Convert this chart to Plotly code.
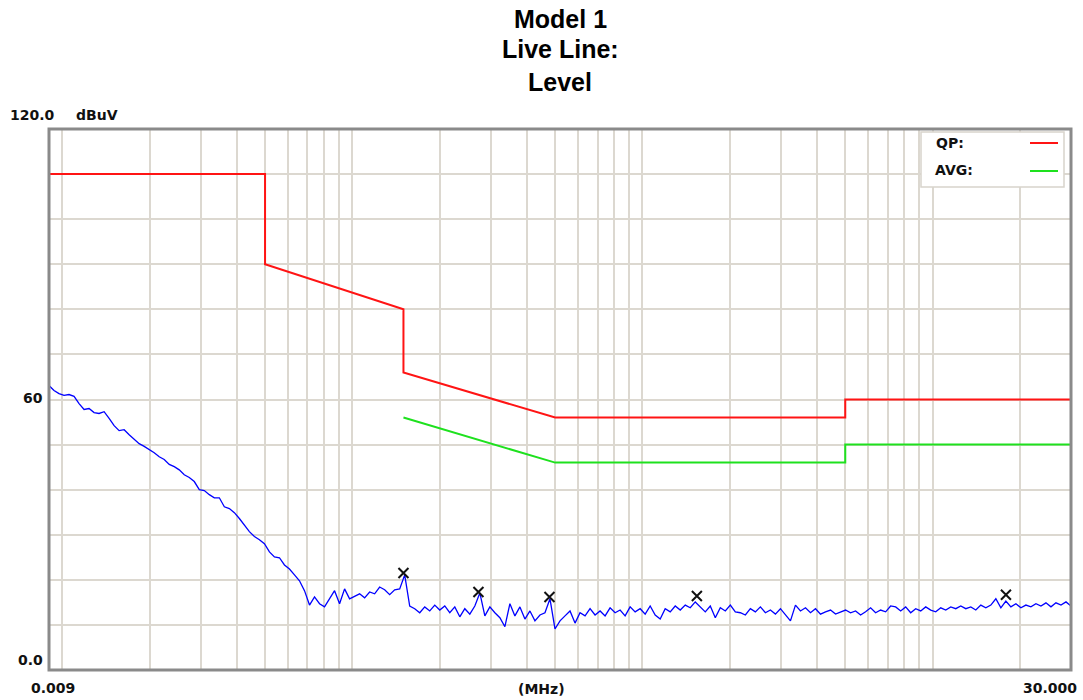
import numpy as np
import plotly.graph_objects as go

# ---------------- data ----------------
# Limit lines (MHz, dBuV)
qp_freq = [0.009, 0.05, 0.05, 0.15, 0.15, 0.5, 5.0, 5.0, 30.0]
qp_level = [110, 110, 90, 80, 66, 56, 56, 60, 60]
avg_freq = [0.15, 0.5, 5.0, 5.0, 30.0]
avg_level = [56, 46, 46, 50, 50]

trace_level = [
    63.1, 62.0, 61.3, 60.9, 61.1, 60.7, 59.1, 57.8, 58.0, 57.1,
    56.9, 57.3, 55.8, 54.2, 53.1, 53.3, 52.2, 51.3, 50.2, 49.6,
    48.9, 48.2, 47.3, 46.7, 45.6, 45.1, 44.4, 43.3, 42.7, 41.8,
    40.0, 39.8, 38.9, 38.2, 38.2, 36.2, 35.8, 34.9, 33.6, 32.2,
    30.7, 29.6, 28.9, 28.0, 26.2, 25.1, 24.9, 23.3, 22.4, 21.1,
    19.8, 17.6, 14.4, 16.2, 14.7, 14.0, 15.8, 17.6, 14.7, 18.0,
    15.8, 16.4, 16.9, 16.0, 17.3, 16.9, 18.4, 17.8, 16.7, 17.8,
    18.0, 21.1, 14.2, 13.6, 12.7, 14.0, 13.1, 14.4, 13.3, 14.2,
    12.7, 14.0, 11.8, 13.6, 12.4, 14.2, 17.1, 12.0, 14.0, 12.7,
    11.6, 9.6, 14.7, 12.0, 14.0, 11.3, 13.1, 10.9, 12.2, 12.7,
    15.8, 9.1, 10.9, 12.0, 13.1, 10.4, 12.7, 12.0, 13.6, 12.2,
    13.1, 12.0, 13.8, 12.7, 13.3, 12.0, 14.0, 12.9, 13.6, 12.4,
    14.2, 12.2, 11.3, 13.6, 12.9, 14.2, 13.3, 14.4, 13.8, 15.1,
    14.0, 12.9, 14.2, 11.6, 13.8, 13.1, 14.4, 12.9, 12.7, 12.2,
    13.6, 12.9, 14.0, 12.7, 13.3, 12.4, 13.6, 12.2, 10.9, 14.4,
    13.1, 13.8, 12.7, 13.6, 12.4, 12.9, 13.3, 12.4, 12.9, 13.3,
    12.7, 13.1, 12.2, 12.9, 13.8, 12.7, 13.3, 12.9, 14.2, 14.0,
    13.1, 14.0, 12.7, 13.6, 13.1, 14.0, 13.3, 12.9, 13.8, 13.3,
    14.0, 13.6, 14.2, 13.6, 14.0, 13.3, 14.4, 13.8, 14.4, 15.8,
    13.8, 15.3, 14.0, 14.7, 13.8, 14.4, 14.0, 14.7, 14.2, 14.9,
    14.0, 14.9, 14.4, 15.1, 14.2,
]
# Sweep frequencies: scanner steps evenly on a log scale from start to stop
f_start, f_stop = 0.009, 30.0
trace_freq = np.geomspace(f_start, f_stop, len(trace_level))

# Peak markers
peak_freq = [0.15, 0.272, 0.478, 1.54, 17.9]
peak_level = [21.5, 17.3, 16.2, 16.4, 16.7]

# Axis labels
title_lines = ["Model 1", "Live Line:", "Level"]
y_unit = "dBuV"
x_unit = "(MHz)"
y_top_label, y_mid_label, y_bot_label = "120.0", "60", "0.0"
x_left_label, x_right_label = "0.009", "30.000"
legend_names = ["QP:", "AVG:"]

# ---------------- layout helpers ----------------
W, H = 1083, 700
L, R, T, B = 49, 1071, 129, 670


def px(x):
    return (x - L) / (R - L)


def py(y):
    return (B - y) / (B - T)


fig = go.Figure()
fig.add_trace(go.Scatter(x=trace_freq, y=trace_level, mode="lines",
                         line=dict(color="#0000ff", width=1.3), hoverinfo="x+y"))
fig.add_trace(go.Scatter(x=qp_freq, y=qp_level, mode="lines",
                         line=dict(color="#ff1414", width=2)))
fig.add_trace(go.Scatter(x=avg_freq, y=avg_level, mode="lines",
                         line=dict(color="#1ee11e", width=2)))
fig.add_trace(go.Scatter(x=peak_freq, y=peak_level, mode="markers",
                         marker=dict(symbol="x-thin", size=10,
                                     line=dict(color="#111111", width=2))))

grid_col = "#dcd8d0"
xgrid = [m * 10.0 ** e for e in range(-2, 2) for m in range(1, 10)]
xgrid = [v for v in xgrid if f_start < v < f_stop]

fig.update_xaxes(type="log", range=[np.log10(f_start), np.log10(f_stop)],
                 tickvals=xgrid, showticklabels=False, ticks="",
                 showgrid=True, gridcolor=grid_col, gridwidth=1.5,
                 zeroline=False, showline=False)
fig.update_yaxes(range=[0, 120], dtick=10, showticklabels=False, ticks="",
                 showgrid=True, gridcolor=grid_col, gridwidth=1.5,
                 zeroline=False, showline=False)

lab_font = dict(family="DejaVu Sans", size=14, color="#111111")
tit_font = dict(family="Liberation Sans", size=25, color="#000000")

ann = []
for txt, yy in zip(title_lines, [19, 49, 82]):
    ann.append(dict(text="<b>%s</b>" % txt, x=px(560), y=py(yy), xanchor="center",
                    yanchor="middle", font=tit_font))
ann += [
    dict(text="<b>%s</b>" % y_top_label, x=px(32), y=py(115), xanchor="center", yanchor="middle", font=lab_font),
    dict(text="<b>%s</b>" % y_unit, x=px(97), y=py(115), xanchor="center", yanchor="middle", font=lab_font),
    dict(text="<b>%s</b>" % y_mid_label, x=px(45), y=py(398), xanchor="right", yanchor="middle", font=lab_font),
    dict(text="<b>%s</b>" % y_bot_label, x=px(45), y=py(660), xanchor="right", yanchor="middle", font=lab_font),
    dict(text="<b>%s</b>" % x_left_label, x=px(53), y=py(688), xanchor="center", yanchor="middle", font=lab_font),
    dict(text="<b>%s</b>" % x_unit, x=px(541), y=py(689), xanchor="center", yanchor="middle", font=lab_font),
    dict(text="<b>%s</b>" % x_right_label, x=px(1079), y=py(688), xanchor="right", yanchor="middle", font=lab_font),
    dict(text="<b>%s</b>" % legend_names[0], x=px(934), y=py(143), xanchor="left", yanchor="middle", font=lab_font),
    dict(text="<b>%s</b>" % legend_names[1], x=px(933), y=py(170), xanchor="left", yanchor="middle", font=lab_font),
]
for a in ann:
    a.update(xref="paper", yref="paper", showarrow=False)

shapes = [
    # legend box
    dict(type="rect", x0=px(921), x1=px(1064), y0=py(132), y1=py(187),
         line=dict(color="#d8d4cc", width=1.5), fillcolor="white", layer="above"),
    dict(type="line", x0=px(1030), x1=px(1058), y0=py(143), y1=py(143),
         line=dict(color="#ff1414", width=2)),
    dict(type="line", x0=px(1030), x1=px(1058), y0=py(171), y1=py(171),
         line=dict(color="#1ee11e", width=2)),
    # frame
    dict(type="rect", x0=0, x1=1, y0=0, y1=1, line=dict(color="#8a8a8a", width=3)),
]
for s in shapes:
    s.update(xref="paper", yref="paper")

fig.update_layout(width=W, height=H, autosize=False,
                  margin=dict(l=L, r=W - R, t=T, b=H - B, pad=0),
                  paper_bgcolor="white", plot_bgcolor="white",
                  showlegend=False, annotations=ann, shapes=shapes)

fig.write_html("out.html", config={"displayModeBar": False},
               post_script="document.body.style.margin='0';document.body.style.overflow='hidden';")
